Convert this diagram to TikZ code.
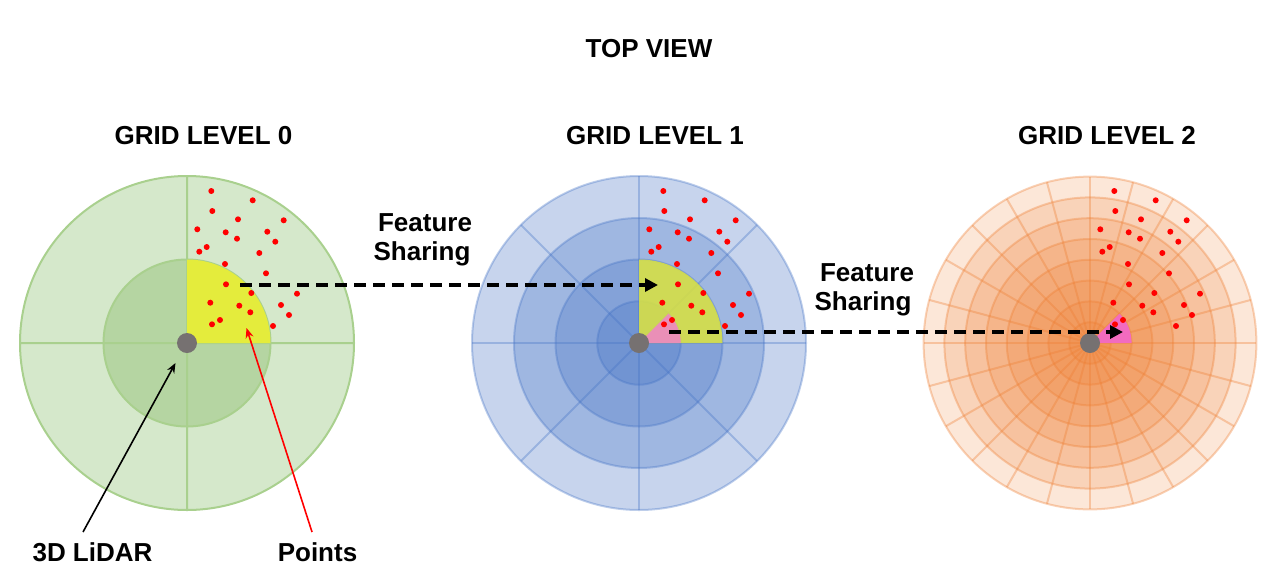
\documentclass[tikz,border=0pt]{standalone}
\usepackage{fontspec}
\setmainfont{Liberation Sans}
\usetikzlibrary{arrows.meta}
\definecolor{gfillA}{HTML}{D5E8CB}
\definecolor{gfillB}{HTML}{B5D5A2}
\definecolor{gline}{HTML}{A9D08E}
\definecolor{bbase}{HTML}{4472C4}
\definecolor{obase}{HTML}{ED7D31}
\definecolor{yelA}{HTML}{E4EC3C}
\definecolor{yelB}{HTML}{DCE43F}
\definecolor{pinkA}{HTML}{EE88C2}
\definecolor{pinkB}{HTML}{F26BBF}
\definecolor{lidargray}{HTML}{767171}
\newcommand{\pointcloud}{%
  \foreach \dx/\dy in {24.3/-152, 65.7/-142.7, 25.3/-132, 51/-123.7, 96.7/-122.7,
    10.3/-113.7, 38.7/-110.7, 80.3/-111.3, 50/-104.3, 88.3/-101.3, 12.3/-91.3,
    19.7/-96, 72.3/-90, 38/-79, 79/-69.7, 39/-58.7, 64.3/-50, 110/-49.3,
    23.3/-40.3, 52.3/-37.3, 94/-38, 63.3/-30.7, 102/-28, 33/-23, 25/-18.7, 86/-17}
    {\fill[red] (\dx,\dy) circle (3);}%
  \fill[lidargray] (0,0) circle (10);%
}
\begin{document}
\begin{tikzpicture}[x=1pt,y=-1pt,
  lbl/.style={font=\fontsize{26}{30}\selectfont\bfseries, inner sep=0pt, anchor=base},
  fsarrow/.style={line width=3.5pt, dash pattern=on 12pt off 7pt, -{Triangle[length=13pt,width=13pt]}},
  callout/.style={line width=1.6pt, -{Stealth[length=10pt,width=8pt]}},
  gridline/.style={line width=2pt}
]
\useasboundingbox (0,0) rectangle (1266,579);

\coordinate (g0) at (187,343);
\coordinate (g1) at (639,343);
\coordinate (g2) at (1090,343);

% ---------- Grid level 0 ----------
\begin{scope}[shift={(g0)}]
  \fill[gfillA] (0,0) circle (167);
  \fill[gfillB] (0,0) circle (83.5);
  \draw[gline, gridline] (0,0) circle (83.5) (0,0) circle (167)
     (-167,0) -- (167,0) (0,-167) -- (0,167);
  \fill[yelA] (0,0) -- (0:83.5) arc[start angle=0, end angle=-90, radius=83.5] -- cycle;
  \pointcloud
\end{scope}

% ---------- Grid level 1 ----------
\begin{scope}[shift={(g1)}]
  \foreach \r in {167,125,83.5,41.75} {\fill[bbase, fill opacity=0.3] (0,0) circle (\r);}
  \draw[bbase, draw opacity=0.35, gridline]
     (0,0) circle (41.75) (0,0) circle (83.5) (0,0) circle (125) (0,0) circle (167);
  \foreach \a in {0,45,90,135} {\draw[bbase, draw opacity=0.35, gridline] (\a:167) -- (\a+180:167);}
  \fill[yelB, fill opacity=0.85] (0,0) -- (0:83.5) arc[start angle=0, end angle=-90, radius=83.5] -- cycle;
  \fill[pinkA, fill opacity=0.9] (0,0) -- (0:41.75) arc[start angle=0, end angle=-45, radius=41.75] -- cycle;
  \pointcloud
\end{scope}

% ---------- Grid level 2 ----------
\begin{scope}[shift={(g2)}]
  \foreach \i in {8,7,...,1} {\fill[obase, fill opacity=0.19] (0,0) circle (\i*20.8);}
  \foreach \i in {1,...,8} {\draw[obase, draw opacity=0.35, gridline] (0,0) circle (\i*20.8);}
  \foreach \a in {0,15,...,165} {\draw[obase, draw opacity=0.35, gridline] (\a:166.4) -- (\a+180:166.4);}
  \fill[pinkB] (0,0) -- (0:41.6) arc[start angle=0, end angle=-45, radius=41.6] -- cycle;
  \pointcloud
\end{scope}

% ---------- Texts ----------
\node[lbl] (top) at (649,57.3) {TOP VIEW};
\node[lbl] (t0) at (203.5,144.3) {GRID LEVEL 0};
\node[lbl] (t1) at (655,144.3) {GRID LEVEL 1};
\node[lbl] (t2) at (1107,144.3) {GRID LEVEL 2};
\node[lbl] (fa1) at (425,231.7) {Feature};
\node[lbl] (fb1) at (422,260) {Sharing};
\node[lbl] (fa2) at (867,281) {Feature};
\node[lbl] (fb2) at (863,310) {Sharing};
\node[lbl] (lidar) at (92.5,561.7) {3D LiDAR};
\node[lbl] (points) at (317.5,561.7) {Points};

% ---------- Connectors ----------
\coordinate (fs1s) at (240,285);
\coordinate (fs1e) at (658,285);
\coordinate (fs2s) at (669,332);
\coordinate (fs2e) at (1123,332);
\draw[fsarrow] (fs1s) -- (fs1e);
\draw[fsarrow] (fs2s) -- (fs2e);

\coordinate (lidartail) at (83,532);
\coordinate (lidartip) at (175.5,363);
\coordinate (ptstail) at (312,532);
\coordinate (ptstip) at (246.5,328);
\draw[callout, black] (lidartail) -- (lidartip);
\draw[callout, red] (ptstail) -- (ptstip);
\end{tikzpicture}
\end{document}
